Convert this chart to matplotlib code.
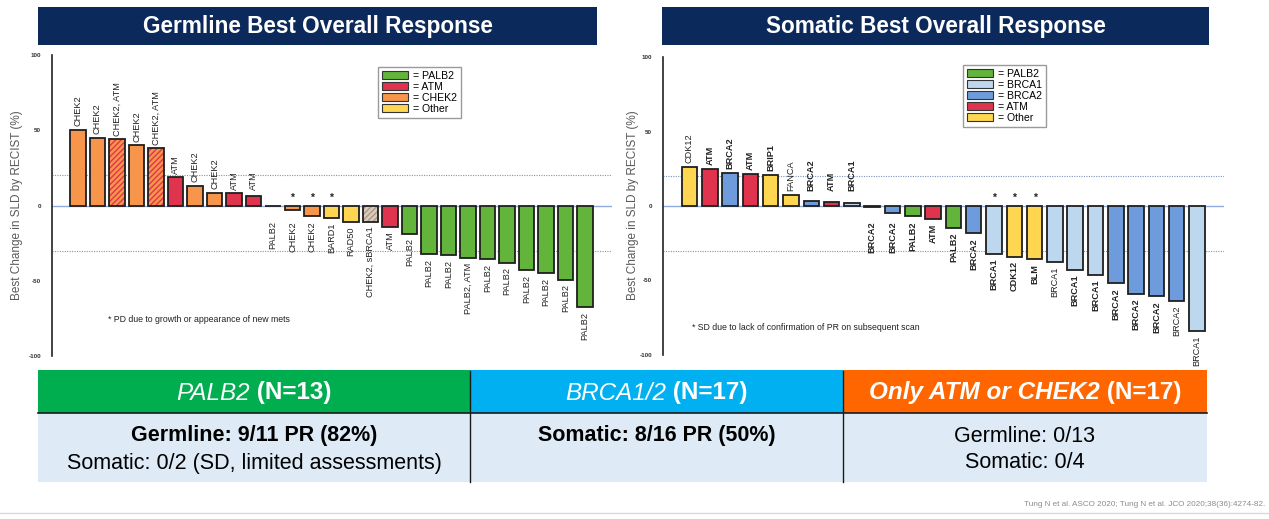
import matplotlib
matplotlib.use('Agg')
import matplotlib.pyplot as plt
from matplotlib.patches import Patch, Rectangle

# Figure size in pixels (dpi 100)
W, H = 1269, 519

plt.rcParams['font.family'] = ['Liberation Sans', 'DejaVu Sans']

# ---- data: germline best overall response ----
germ_labels = ['CHEK2', 'CHEK2', 'CHEK2, ATM', 'CHEK2', 'CHEK2, ATM', 'ATM', 'CHEK2', 'CHEK2',
               'ATM', 'ATM', 'PALB2', 'CHEK2', 'CHEK2', 'BARD1', 'RAD50', 'CHEK2, sBRCA1', 'ATM',
               'PALB2', 'PALB2', 'PALB2', 'PALB2, ATM', 'PALB2', 'PALB2', 'PALB2', 'PALB2',
               'PALB2', 'PALB2']
germ_values = [50, 45, 44, 40, 38, 18.7, 13, 8.5, 8, 6, -0.6, -3, -7, -8.5, -10.7, -11, -14,
               -18.7, -32.5, -33, -35, -35.6, -38, -43, -45, -49.4, -67.7]
germ_groups = ['CHEK2', 'CHEK2', 'CHEK2+ATM', 'CHEK2', 'CHEK2+ATM', 'ATM', 'CHEK2', 'CHEK2',
               'ATM', 'ATM', 'PALB2', 'CHEK2', 'CHEK2', 'Other', 'Other', 'CHEK2+sBRCA1', 'ATM',
               'PALB2', 'PALB2', 'PALB2', 'PALB2', 'PALB2', 'PALB2', 'PALB2', 'PALB2',
               'PALB2', 'PALB2']
germ_starred = [11, 12, 13]
germ_legend = ['PALB2', 'ATM', 'CHEK2', 'Other']

# ---- data: somatic best overall response ----
som_labels = ['CDK12', 'ATM', 'BRCA2', 'ATM', 'BRIP1', 'FANCA', 'BRCA2', 'ATM', 'BRCA1', 'BRCA2',
              'BRCA2', 'PALB2', 'ATM', 'PALB2', 'BRCA2', 'BRCA1', 'CDK12', 'BLM', 'BRCA1', 'BRCA1',
              'BRCA1', 'BRCA2', 'BRCA2', 'BRCA2', 'BRCA2', 'BRCA1']
som_values = [26.5, 24.7, 22, 21.6, 21, 7.6, 3.6, 2.9, 2.2, -1, -4.7, -6.7, -9, -14.6, -18.4,
              -32.4, -34, -35.7, -37.5, -42.7, -46.5, -52, -59, -60.7, -64, -84]
som_groups = ['Other', 'ATM', 'BRCA2', 'ATM', 'Other', 'Other', 'BRCA2', 'ATM', 'BRCA1', 'BRCA2',
              'BRCA2', 'PALB2', 'ATM', 'PALB2', 'BRCA2', 'BRCA1', 'Other', 'Other', 'BRCA1', 'BRCA1',
              'BRCA1', 'BRCA2', 'BRCA2', 'BRCA2', 'BRCA2', 'BRCA1']
som_bold = [0, 1, 1, 1, 1, 0, 1, 1, 1, 1, 1, 1, 1, 1, 1, 1, 1, 1, 0, 1, 1, 1, 1, 1, 0, 0]
som_starred = [15, 16, 17]
som_legend = ['PALB2', 'BRCA1', 'BRCA2', 'ATM', 'Other']

# ---- summary table ----
table_headers = [[('PALB2', 'italic', 'normal'), (' (N=13)', 'normal', 'bold')],
                 [('BRCA1/2', 'italic', 'normal'), (' (N=17)', 'normal', 'bold')],
                 [('Only ATM or CHEK2', 'italic', 'bold'), (' (N=17)', 'normal', 'bold')]]
table_lines = [[('Germline: 9/11 PR (82%)', 'bold'), ('Somatic: 0/2 (SD, limited assessments)', 'normal')],
               [('Somatic: 8/16 PR (50%)', 'bold')],
               [('Germline: 0/13', 'normal'), ('Somatic: 0/4', 'normal')]]
citation = 'Tung N et al. ASCO 2020; Tung N et al. JCO 2020;38(36):4274-82.'

COLORS = {'PALB2': '#62B43A', 'ATM': '#E0344E', 'CHEK2': '#F7964A', 'Other': '#FFD651',
          'BRCA1': '#BDD7EE', 'BRCA2': '#6E9BDB'}
HATCHED = {'CHEK2+ATM': ('#F7964A', '#E0344E'), 'CHEK2+sBRCA1': ('#DCCBBB', '#A8988C')}
NAVY = '#0B2A5B'
YLABEL = 'Best Change in SLD by RECIST (%)'


def fx(x):
    return x / W


def fy(y):
    return 1 - y / H


def add_axes_px(left, top, right, bottom):
    return fig.add_axes([fx(left), fy(bottom), (right - left) / W, (bottom - top) / H])


def waterfall(ax, labels, values, groups, starred, bold, first_px, step_px, left_px, right_px, width):
    for i, v in enumerate(values):
        g = groups[i]
        if g in HATCHED:
            face, hcol = HATCHED[g]
            ax.bar(i, v, width=width, color=face, edgecolor=hcol, hatch='//////', linewidth=0, zorder=3)
        else:
            ax.bar(i, v, width=width, color=COLORS[g], linewidth=0, zorder=3)
        ax.bar(i, v, width=width, fill=False, edgecolor='#1f1f1f', linewidth=1.3, zorder=4)
        weight = 'bold' if bold[i] else 'normal'
        if v > 0:
            ax.text(i, max(v + 2.5, 10), labels[i], rotation=90, ha='center', va='bottom',
                    fontsize=6.6, color='#222222', fontweight=weight)
        else:
            ax.text(i, min(v - 3, -10.3), labels[i], rotation=90, ha='center', va='top',
                    fontsize=6.6, color='#222222', fontweight=weight)
    for i in starred:
        ax.text(i, 2.0, '*', ha='center', va='bottom', fontsize=7.5, fontweight='bold', color='#222222')
    ax.set_xlim((left_px - first_px) / step_px, (right_px - first_px) / step_px)
    ax.set_ylim(-100, 100)
    ax.axhline(0, color='#8FAADC', linewidth=1.0, zorder=2)
    ax.axhline(20, color='#7F94B8', linewidth=0.8, linestyle=(0, (1, 1.2)), zorder=2)
    ax.axhline(-30, color='#7F94B8', linewidth=0.8, linestyle=(0, (1, 1.2)), zorder=2)
    ax.set_yticks([-100, -50, 0, 50, 100])
    ax.set_yticklabels(['-100', '-50', '0', '50', '100'], fontsize=4.5, fontweight='bold', color='#333333')
    ax.tick_params(axis='y', length=0, pad=8)
    ax.set_xticks([])
    for s in ['top', 'right', 'bottom']:
        ax.spines[s].set_visible(False)
    ax.spines['left'].set_linewidth(1.2)
    ax.spines['left'].set_color('#222222')
    ax.patch.set_alpha(0)


def legend_px(keys, x, y):
    handles = [Patch(facecolor=COLORS[k], edgecolor='#333333', linewidth=0.8) for k in keys]
    fig.legend(handles, ['= ' + k for k in keys], loc='upper left', bbox_to_anchor=(fx(x), fy(y)),
               fontsize=7.6, frameon=True, fancybox=False, edgecolor='#9a9a9a', framealpha=1,
               borderpad=0.35, labelspacing=0.1, handlelength=2.5, handleheight=0.85,
               handletextpad=0.5, borderaxespad=0)


def mixed_text(xc, y, parts, size, color):
    r = fig.canvas.get_renderer()
    texts = []
    for s, style, weight in parts:
        t = fig.text(0, fy(y), s, fontsize=size, color=color, fontstyle=style, fontweight=weight,
                     va='center')
        texts.append(t)
    widths = [t.get_window_extent(r).width for t in texts]
    x = xc - sum(widths) / 2
    for t, w in zip(texts, widths):
        t.set_x(fx(x))
        x += w


fig = plt.figure(figsize=(W / 100, H / 100), dpi=100)

# title bars
for (l, r_), title in [((38, 597), 'Germline Best Overall Response'), ((662, 1209), 'Somatic Best Overall Response')]:
    fig.patches.append(Rectangle((fx(l), fy(45)), (r_ - l) / W, 38 / H, transform=fig.transFigure,
                                 facecolor=NAVY, edgecolor='none'))
    fig.text(fx((l + r_) / 2), fy(26), title, color='white', fontsize=16.3, fontweight='bold',
             ha='center', va='center')

ax1 = add_axes_px(52, 55, 612, 356)
waterfall(ax1, germ_labels, germ_values, germ_groups, germ_starred, [0] * len(germ_values),
          78, 19.5, 52, 612, 0.82)
fig.text(fx(17), fy(205), YLABEL, rotation=90, ha='center', va='center', fontsize=8.5, color='#595959')
fig.text(fx(108), fy(320), '* PD due to growth or appearance of new mets',
         fontsize=6.3, color='#222222', va='center')
legend_px(germ_legend, 378, 67)

ax2 = add_axes_px(663, 57, 1224, 355)
waterfall(ax2, som_labels, som_values, som_groups, som_starred, som_bold,
          689.5, 20.3, 663, 1224, 0.76)
fig.text(fx(633), fy(205), YLABEL, rotation=90, ha='center', va='center', fontsize=8.5, color='#595959')
fig.text(fx(692), fy(328), '* SD due to lack of confirmation of PR on subsequent scan',
         fontsize=6.3, color='#222222', va='center')
legend_px(som_legend, 963, 65)

# summary table
col_edges = [38, 470, 843, 1207]
head_colors = ['#00AD4F', '#00B0F0', '#FF6600']
for j in range(3):
    l, r_ = col_edges[j], col_edges[j + 1]
    fig.patches.append(Rectangle((fx(l), fy(413)), (r_ - l) / W, 43 / H, transform=fig.transFigure,
                                 facecolor=head_colors[j], edgecolor='none'))
    fig.patches.append(Rectangle((fx(l), fy(482)), (r_ - l) / W, 69 / H, transform=fig.transFigure,
                                 facecolor='#DEEBF7', edgecolor='none'))
    mixed_text((l + r_) / 2, 393, table_headers[j], 17.5, 'white')
    lines = table_lines[j]
    for k, (s, weight) in enumerate(lines):
        fig.text(fx((l + r_) / 2), fy(436 + 27 * k), s, fontsize=15.5, fontweight=weight,
                 color='black', ha='center', va='center')
fig.lines.append(plt.Line2D([fx(38), fx(1207)], [fy(413), fy(413)], transform=fig.transFigure,
                            color='#1a1a1a', linewidth=1.2))
for xv in col_edges[1:3]:
    fig.lines.append(plt.Line2D([fx(xv), fx(xv)], [fy(371), fy(482)], transform=fig.transFigure,
                                color='#1a1a1a', linewidth=1.0))

fig.lines.append(plt.Line2D([0, 1], [fy(513), fy(513)], transform=fig.transFigure,
                            color='#d9d9d9', linewidth=1.0))
fig.text(fx(1265), fy(505), citation, fontsize=5.9, color='#8c8c8c', ha='right', va='center')

fig.savefig('out.png', dpi=100)
